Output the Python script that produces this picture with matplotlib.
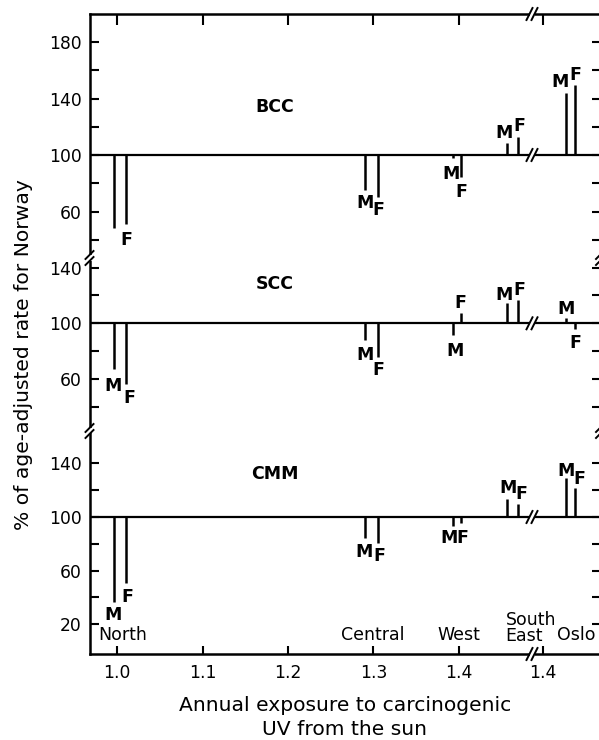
import matplotlib
matplotlib.use('Agg')
import matplotlib.pyplot as plt
from matplotlib.lines import Line2D
from matplotlib.patches import Rectangle

plt.rcParams['font.family'] = ['DejaVu Sans']

W, H = 599, 740

# ---------------- data ----------------
panels = ['BCC', 'SCC', 'CMM']
regions = ['North', 'Central', 'West', 'South\nEast', 'Oslo']
uv_male = [0.997, 1.2905, 1.393, 1.456, 1.427]      # Oslo is on the segment after the break
uv_female = [1.011, 1.305, 1.402, 1.469, 1.4375]

bcc_male = [48, 75, 98, 108.5, 144]
bcc_female = [51, 70, 84.5, 112.5, 149.5]
scc_male = [67, 88, 91.5, 114.5, 104]
scc_female = [56.5, 76, 107.5, 116.5, 96]
cmm_male = [36.5, 84, 93.5, 113.5, 129]
cmm_female = [50.5, 80.5, 95.5, 110, 121.5]

bcc_yticks = [60, 100, 140, 180]
scc_yticks = [60, 100, 140]
cmm_yticks = [20, 60, 100, 140]
bcc_yminor = [40, 80, 120, 160]
scc_yminor = [40, 80, 120]
cmm_yminor = [40, 80, 120]
xticks_left = [1.0, 1.1, 1.2, 1.3, 1.4]
xticks_right = [1.4]
x_label_lines = ['Annual exposure to carcinogenic', 'UV from the sun']
y_label = '% of age-adjusted rate for Norway'

male_vals = [bcc_male, scc_male, cmm_male]
female_vals = [bcc_female, scc_female, cmm_female]
major_ticks = [bcc_yticks, scc_yticks, cmm_yticks]
minor_ticks = [bcc_yminor, scc_yminor, cmm_yminor]

# ---------------- layout ----------------
rows_px = [(14, 258), (258, 431), (431, 654)]
ylims = [(27.1, 199.9), (22.7, 146.9), (-2.3, 164.2)]
xL0, xBr, xR1 = 90, 532, 601
xlim_left = (0.9684, 1.4854)
xlim_right = (1.3871, 1.4678)

# label offsets (dx, dy downward) in pixels from bar ends: [(M), (F)] per region
label_off = [
    [(None, (0, 14)), ((0, 11), (1, 11)), ((-2, 15), (1, 14)), ((-3, -12), (1, -13)), ((-6, -12), (0, -12))],
    [((-1, 15), (3, 13)), ((0, 13), (1, 12)), ((2, 14), (0, -11)), ((-3, -10), (1, -12)), ((0, -10), (0, 13))],
    [((-1, 11), (1, 12)), ((-1, 12), (2, 11)), ((-4, 11), (2, 13)), ((1, -12), (3, -11)), ((0, -9), (4, -11))],
]
panel_label_pos = [(1.185, 130.8), (1.185, 124.3), (1.185, 128)]
region_dx = [2, 1.5, 2, -7, 6]
region_ha = ['center', 'center', 'center', 'left', 'center']

FS_TICK = 12.3
FS_LAB = 12.5
FS_AX = 14.6
LW_SP = 1.8

fig = plt.figure(figsize=(W / 100, H / 100), dpi=100)


def fx(px):
    return px / W


def fy(py):
    return 1 - py / H


axes = []
for r in range(3):
    top, bot = rows_px[r]
    axL = fig.add_axes([fx(xL0), fy(bot), (xBr - xL0) / W, (bot - top) / H])
    axR = fig.add_axes([fx(xBr), fy(bot), (xR1 - xBr) / W, (bot - top) / H])
    for ax, xl in ((axL, xlim_left), (axR, xlim_right)):
        ax.set_xlim(*xl)
        ax.set_ylim(*ylims[r])
        ax.patch.set_alpha(0)
        for s in ax.spines.values():
            s.set_linewidth(LW_SP)
            s.set_visible(False)
        ax.spines['top'].set_visible(r == 0)
        ax.spines['bottom'].set_visible(r == 2)
        ax.axhline(100, color='k', lw=1.6, zorder=2)
    axL.spines['left'].set_visible(True)
    axR.spines['right'].set_visible(True)

    # y ticks
    axL.set_yticks(major_ticks[r])
    axL.set_yticks(minor_ticks[r], minor=True)
    axL.tick_params(axis='y', which='both', direction='in', length=6.5, width=1.5,
                    left=True, right=False, labelsize=FS_TICK, pad=6)
    allt = sorted(major_ticks[r] + minor_ticks[r])
    axR.set_yticks(allt)
    axR.tick_params(axis='y', which='both', direction='in', length=6.5, width=1.5,
                    left=False, right=True, labelleft=False, labelright=False)
    # x ticks
    axL.set_xticks(xticks_left)
    axL.set_xticklabels([f'{v:.1f}' for v in xticks_left])
    axR.set_xticks(xticks_right)
    axR.set_xticklabels([f'{v:.1f}' for v in xticks_right])
    for ax in (axL, axR):
        ax.tick_params(axis='x', which='both', direction='in', width=1.5,
                       length=8 if r == 0 else 5.8,
                       top=(r == 0), bottom=(r == 2), labeltop=False,
                       labelbottom=(r == 2), labelsize=FS_TICK, pad=7)

    # bars
    mv, fv = male_vals[r], female_vals[r]
    axL.vlines(uv_male[:4], 100, mv[:4], color='k', lw=1.8, zorder=3)
    axL.vlines(uv_female[:4], 100, fv[:4], color='k', lw=1.8, zorder=3)
    axR.vlines(uv_male[4:], 100, mv[4:], color='k', lw=1.8, zorder=3)
    axR.vlines(uv_female[4:], 100, fv[4:], color='k', lw=1.8, zorder=3)

    # M / F labels
    for i in range(5):
        ax = axL if i < 4 else axR
        for sex, xs, vals, off in (('M', uv_male, mv, label_off[r][i][0]),
                                   ('F', uv_female, fv, label_off[r][i][1])):
            if off is None:
                continue
            dx, dyd = off
            ax.annotate(sex, xy=(xs[i], vals[i]), xytext=(dx, -(dyd + 6.5)),
                        textcoords='offset pixels', ha='center', va='baseline',
                        fontsize=FS_LAB, fontweight='bold', annotation_clip=False)

    # panel name
    axL.text(panel_label_pos[r][0], panel_label_pos[r][1], panels[r],
             ha='center', va='baseline', fontsize=FS_LAB, fontweight='bold')
    axes.append((axL, axR))

# region labels in the bottom panel (multi-line names as one text)
axL, axR = axes[2]
for i, name in enumerate(regions):
    ax = axL if i < 4 else axR
    xc = (uv_male[i] + uv_female[i]) / 2
    n = len(name.split('\n'))
    # bottom line baseline at 639.5 px; the block's top is placed accordingly
    top_px = 639.5 - 13.2 - (n - 1) * 15
    ax.annotate(name, xy=(xc, 0), xycoords=('data', 'axes fraction'),
                xytext=(region_dx[i], (654 - top_px)), textcoords='offset pixels',
                ha=region_ha[i], va='top', fontsize=FS_LAB, linespacing=0.85,
                multialignment='left', annotation_clip=False)

# axis labels
fig.text(fx(24), fy(355), y_label, rotation=90, ha='center', va='center', fontsize=FS_AX)
fig.text(fx(345), fy(711), x_label_lines[0], ha='center', va='baseline', fontsize=FS_AX)
fig.text(fx(345), fy(735), x_label_lines[1], ha='center', va='baseline', fontsize=FS_AX)


# break marks
def hbreak(x, y):
    fig.add_artist(Rectangle((fx(x - 2.5), fy(y + 3)), 5 / W, 6 / H, transform=fig.transFigure,
                             facecolor='white', edgecolor='none', zorder=10))
    for dx in (-2.5, 2.5):
        fig.add_artist(Line2D([fx(x + dx - 3), fx(x + dx + 3)], [fy(y + 6), fy(y - 6)],
                              transform=fig.transFigure, color='k', lw=1.4, zorder=11))


def vbreak(x, y):
    fig.add_artist(Rectangle((fx(x - 3), fy(y + 2.5)), 6 / W, 5 / H, transform=fig.transFigure,
                             facecolor='white', edgecolor='none', zorder=10))
    for dy in (-3, 3):
        fig.add_artist(Line2D([fx(x - 4), fx(x + 4)], [fy(y + dy + 4), fy(y + dy - 4)],
                              transform=fig.transFigure, color='k', lw=1.4, zorder=11))


for y in (14, 155, 323.3, 517, 654):
    hbreak(xBr, y)
for y in (258, 431):
    vbreak(89.5, y)
    vbreak(600, y)

fig.savefig('out.png', dpi=100)
